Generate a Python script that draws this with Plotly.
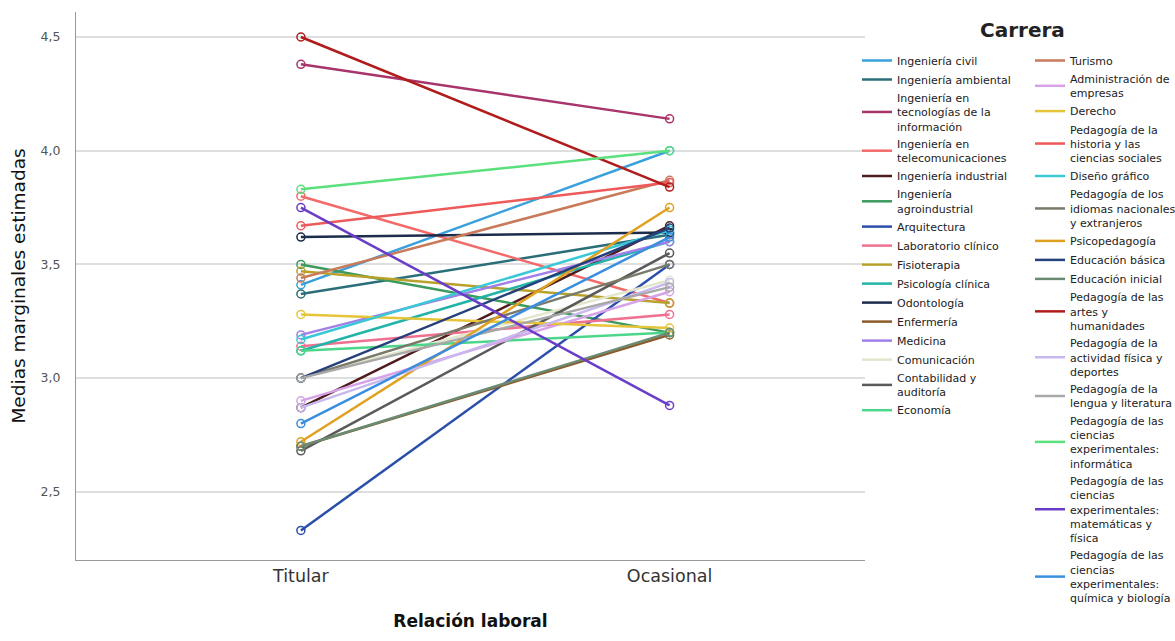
import plotly.graph_objects as go

relacion = ["Titular", "Ocasional"]

carreras = [
    "Ingeniería civil", "Ingeniería ambiental",
    "Ingeniería en<br>tecnologías de la<br>información",
    "Ingeniería en<br>telecomunicaciones", "Ingeniería industrial",
    "Ingeniería<br>agroindustrial", "Arquitectura", "Laboratorio clínico",
    "Fisioterapia", "Psicología clínica", "Odontología", "Enfermería",
    "Medicina", "Comunicación", "Contabilidad y<br>auditoría", "Economía",
    "Turismo", "Administración de<br>empresas", "Derecho",
    "Pedagogía de la<br>historia y las<br>ciencias sociales", "Diseño gráfico",
    "Pedagogía de los<br>idiomas nacionales<br>y extranjeros", "Psicopedagogía",
    "Educación básica", "Educación inicial",
    "Pedagogía de las<br>artes y<br>humanidades",
    "Pedagogía de la<br>actividad física y<br>deportes",
    "Pedagogía de la<br>lengua y literatura",
    "Pedagogía de las<br>ciencias<br>experimentales:<br>informática",
    "Pedagogía de las<br>ciencias<br>experimentales:<br>matemáticas y<br>física",
    "Pedagogía de las<br>ciencias<br>experimentales:<br>química y biología",
]

titular = [3.41, 3.37, 4.38, 3.80, 2.87, 3.50, 2.33, 3.14, 3.47, 3.12, 3.62,
           2.70, 3.19, 3.00, 2.68, 3.12, 3.44, 2.90, 3.28, 3.67, 3.17, 3.00,
           2.72, 3.00, 2.70, 4.50, 2.87, 3.00, 3.83, 3.75, 2.80]
ocasional = [4.00, 3.63, 4.14, 3.33, 3.67, 3.20, 3.50, 3.28, 3.33, 3.60, 3.64,
             3.19, 3.60, 3.43, 3.55, 3.20, 3.87, 3.38, 3.22, 3.86, 3.65, 3.50,
             3.75, 3.66, 3.20, 3.84, 3.42, 3.40, 4.00, 2.88, 3.62]

colores = [
    "#3aa0dc", "#2a6e78", "#a8346c", "#f26a6a", "#4e1c1c", "#3c9a5c",
    "#2a4eaa", "#f07090", "#b8a22c", "#22b4a8", "#1c2c4c", "#8c5a2a",
    "#a080e8", "#e2e6cc", "#5a5a5a", "#4cd68a", "#c87a5a", "#d6a2e8",
    "#e6c43a", "#ee5a5a", "#3ac8d8", "#7a7a6a", "#e0a020", "#26407c",
    "#6a8a72", "#b01c1c", "#c8b8ee", "#a8a8a8", "#5ae07c", "#6a3cc8",
    "#3a8ee0",
]

fig = go.Figure()
for i, (name, t, o, c) in enumerate(zip(carreras, titular, ocasional, colores)):
    leg = "legend" if i < 16 else "legend2"
    fig.add_trace(go.Scatter(
        x=relacion, y=[t, o], name=name, mode="lines", legendgroup=f"g{i}",
        line=dict(color=c, width=2.5), legend=leg,
    ))
    fig.add_trace(go.Scatter(
        x=relacion, y=[t, o], name=name, mode="markers", legendgroup=f"g{i}",
        marker=dict(symbol="circle-open", size=8, color=c, line=dict(width=1.5)),
        showlegend=False, legend=leg,
    ))

FONT = "DejaVu Sans, Verdana, sans-serif"
legfont = dict(family=FONT, size=11, color="#222")
fig.update_layout(
    width=1175, height=641,
    paper_bgcolor="white", plot_bgcolor="white",
    margin=dict(l=76, r=310, t=12, b=81, autoexpand=False),
    separators=",.",
    font=dict(family=FONT),
    xaxis=dict(type="category", range=[-0.61, 1.53], showgrid=False,
               showline=True, linecolor="#999", linewidth=1, ticks="",
               tickfont=dict(size=17.5, color="#333"),
               title=dict(text="<b>Relación laboral</b>", font=dict(size=17, color="#111"), standoff=30)),
    yaxis=dict(range=[2.2, 4.61], tickvals=[2.5, 3.0, 3.5, 4.0, 4.5], tickformat=".1f",
               showgrid=True, gridcolor="#dedede", gridwidth=2, zeroline=False,
               showline=True, linecolor="#999", linewidth=1, ticks="",
               ticklabelstandoff=12,
               tickfont=dict(size=12.5, color="#555"),
               title=dict(text="Medias marginales estimadas",
                          font=dict(size=18.5, color="#111"),
                          standoff=10)),
    legend=dict(xref="container", yref="container", x=857 / 1175, y=1 - 46 / 641,
                xanchor="left", yanchor="top", font=legfont, tracegroupgap=0,
                itemwidth=30, bgcolor="rgba(0,0,0,0)", maxheight=630),
    legend2=dict(xref="container", yref="container", x=1030 / 1175, y=1 - 46 / 641,
                 xanchor="left", yanchor="top", font=legfont, tracegroupgap=0,
                 itemwidth=30, bgcolor="rgba(0,0,0,0)", maxheight=630),
    annotations=[dict(text="<b>Carrera</b>", xref="paper", yref="paper",
                      x=(1022 - 76) / 789, y=(560 - 30) / 548, showarrow=False,
                      xanchor="center", yanchor="middle",
                      font=dict(size=20, color="#222"))],
)

fig.write_html("out.html", config={"displayModeBar": False},
               post_script="document.body.style.margin='0';")
